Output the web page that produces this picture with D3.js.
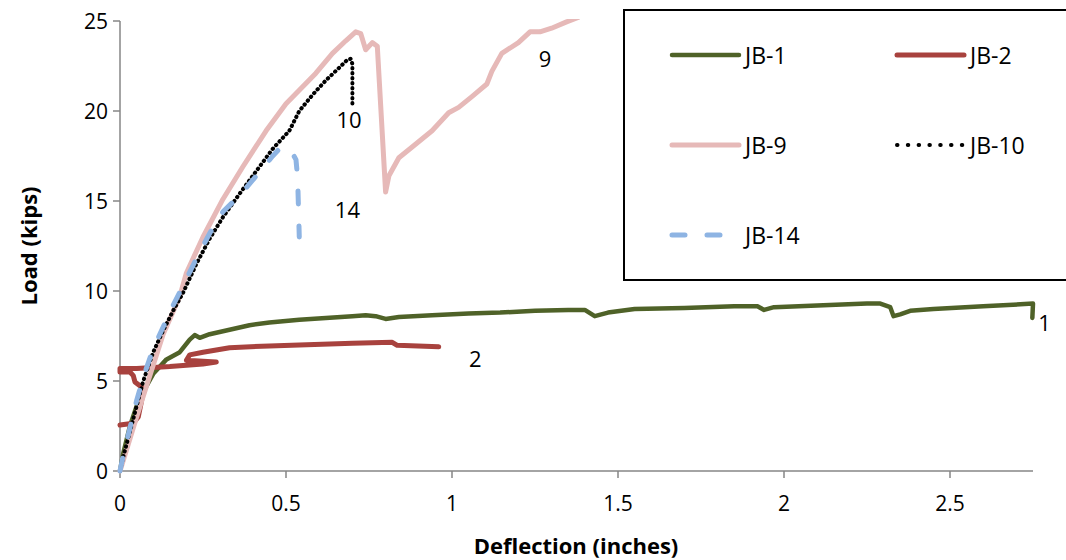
<!DOCTYPE html>
<html><head><meta charset="utf-8">
<script src="https://cdn.jsdelivr.net/npm/d3@7/dist/d3.min.js"></script>
<style>body{margin:0;background:#fff;}svg{display:block;font-family:"Open Sans",Lato,sans-serif;}</style>
</head><body><svg id="c" width="1066" height="560"></svg>
<script>
const seriesNames = ["JB-1","JB-2","JB-9","JB-10","JB-14"];
const xTicks = [0,0.5,1,1.5,2,2.5];
const yTicks = [0,5,10,15,20,25];
const jb1 = [[0,0],[0.01,1.0],[0.03,2.5],[0.05,3.6],[0.07,4.4],[0.10,5.4],[0.14,6.2],[0.18,6.6],[0.21,7.3],[0.225,7.55],[0.24,7.4],[0.27,7.6],[0.33,7.85],[0.39,8.1],[0.45,8.25],[0.54,8.4],[0.62,8.5],[0.70,8.6],[0.74,8.65],[0.77,8.6],[0.80,8.45],[0.84,8.55],[0.94,8.65],[1.05,8.75],[1.145,8.8],[1.25,8.9],[1.35,8.95],[1.40,8.95],[1.43,8.6],[1.47,8.8],[1.55,9.0],[1.70,9.05],[1.85,9.15],[1.92,9.15],[1.94,8.95],[1.97,9.1],[2.10,9.2],[2.25,9.3],[2.29,9.3],[2.32,9.1],[2.33,8.6],[2.35,8.7],[2.38,8.9],[2.45,9.0],[2.60,9.15],[2.75,9.3],[2.748,8.5]];
const jb2 = [[0,2.55],[0.04,2.65],[0.055,3.0],[0.065,3.9],[0.07,4.6],[0.045,4.95],[0.04,5.3],[0.03,5.5],[0,5.5],[0,5.7],[0.05,5.7],[0.15,5.8],[0.25,5.95],[0.29,6.05],[0.25,6.1],[0.20,6.15],[0.21,6.45],[0.25,6.6],[0.33,6.85],[0.45,6.95],[0.54,7.0],[0.70,7.1],[0.82,7.15],[0.835,6.98],[0.96,6.9]];
const jb9 = [[0,0],[0.02,1.2],[0.05,3.0],[0.09,5.3],[0.13,7.6],[0.18,9.7],[0.20,11.0],[0.25,13.0],[0.31,15.1],[0.37,16.9],[0.44,18.9],[0.50,20.4],[0.59,22.1],[0.64,23.2],[0.68,23.9],[0.71,24.4],[0.725,24.3],[0.74,23.4],[0.76,23.8],[0.775,23.6],[0.80,15.5],[0.81,16.4],[0.84,17.4],[0.88,18.0],[0.94,18.9],[0.99,19.9],[1.02,20.2],[1.06,20.8],[1.105,21.5],[1.12,22.2],[1.15,23.2],[1.20,23.8],[1.235,24.4],[1.265,24.4],[1.30,24.6],[1.345,24.95],[1.38,25.2]];
const jb10 = [[0,0],[0.01,0.8],[0.03,2.2],[0.05,3.6],[0.07,5.0],[0.10,6.6],[0.13,7.8],[0.16,8.9],[0.19,9.9],[0.23,11.5],[0.27,12.9],[0.31,14.1],[0.36,15.4],[0.42,16.9],[0.46,17.9],[0.51,18.9],[0.54,20.0],[0.58,20.9],[0.62,21.7],[0.66,22.4],[0.685,22.85],[0.695,22.9],[0.70,22.6],[0.70,20.3]];
const jb14 = [[0,0],[0.01,0.9],[0.03,2.4],[0.05,3.9],[0.07,5.2],[0.10,6.8],[0.13,8.0],[0.16,9.2],[0.19,10.3],[0.23,11.8],[0.27,13.2],[0.31,14.4],[0.36,15.3],[0.42,16.6],[0.46,17.5],[0.48,17.9],[0.50,18.0],[0.515,17.8],[0.53,17.3],[0.535,16.3],[0.54,13.0]];
const endLabels = [["9",1.28,22.9],["10",0.69,19.5],["14",0.685,14.5],["2",1.07,6.2],["1",2.785,8.2]];

const svg = d3.select("#c");
const x = d3.scaleLinear().domain([0,2.75]).range([120,1033]);
const y = d3.scaleLinear().domain([0,25]).range([471,21]);

svg.append("defs").append("clipPath").attr("id","clip").append("rect")
  .attr("x",0).attr("y",19).attr("width",1066).attr("height",560);

const styles = [
  {data:jb1,color:"#4F6228",w:4.5,dash:null,legDash:null},
  {data:jb2,color:"#A8423E",w:5,dash:null,legDash:null},
  {data:jb9,color:"#E6B9B8",w:5,dash:null,legDash:null},
  {data:jb10,color:"#000000",w:4,dash:"0.5,4.5",legDash:"0.5,10.3"},
  {data:jb14,color:"#8EB4E3",w:5,dash:"13,22",legDash:"13,22"}
];

// axes
const ax = svg.append("g").attr("stroke","#868686").attr("stroke-width",1.5);
ax.append("line").attr("x1",x(0)).attr("x2",x(2.75)).attr("y1",y(0)).attr("y2",y(0));
ax.append("line").attr("x1",x(0)).attr("x2",x(0)).attr("y1",y(0)).attr("y2",y(25));
xTicks.forEach(t=>ax.append("line").attr("x1",x(t)).attr("x2",x(t)).attr("y1",y(0)).attr("y2",y(0)+7));
yTicks.forEach(t=>ax.append("line").attr("x1",x(0)-7).attr("x2",x(0)).attr("y1",y(t)).attr("y2",y(t)));

svg.append("g").selectAll("text").data(xTicks).join("text")
  .attr("x",d=>x(d)).attr("y",y(0)+40).attr("text-anchor","middle")
  .attr("font-size",21).attr("fill","#000").text(d=>d);
svg.append("g").selectAll("text").data(yTicks).join("text")
  .attr("x",x(0)-12).attr("y",d=>y(d)+7.5).attr("text-anchor","end")
  .attr("font-size",21).attr("fill","#000").text(d=>d);

svg.append("text").attr("x",576).attr("y",554).attr("text-anchor","middle")
  .attr("font-size",22).attr("font-weight","bold").text("Deflection (inches)");
svg.append("text").attr("transform","translate(37,246) rotate(-90)").attr("text-anchor","middle")
  .attr("font-size",22).attr("font-weight","bold").text("Load (kips)");

const line = d3.line().x(d=>x(d[0])).y(d=>y(d[1]));
const g = svg.append("g").attr("clip-path","url(#clip)");
styles.forEach(s=>{
  const p = g.append("path").datum(s.data).attr("d",line).attr("fill","none")
    .attr("stroke",s.color).attr("stroke-width",s.w).attr("stroke-linecap","round").attr("stroke-linejoin","round");
  if(s.dash) p.attr("stroke-dasharray",s.dash);
});

svg.append("g").selectAll("text").data(endLabels).join("text")
  .attr("x",d=>x(d[1])).attr("y",d=>y(d[2])).attr("dy","0.36em").attr("text-anchor","middle")
  .attr("font-size",22).attr("fill","#000").text(d=>d[0]);

// legend
svg.append("rect").attr("x",624).attr("y",10).attr("width",460).attr("height",270)
  .attr("fill","#fff").attr("stroke","#000").attr("stroke-width",2);
const legPos = [[670,55],[895,55],[670,145],[895,145],[670,235]];
seriesNames.forEach((n,i)=>{
  const s = styles[i], [lx,ly] = legPos[i];
  const l = svg.append("line").attr("x1",lx+2).attr("x2",lx+69).attr("y1",ly).attr("y2",ly)
    .attr("stroke",s.color).attr("stroke-width",s.w).attr("stroke-linecap","round");
  if(s.legDash) l.attr("stroke-dasharray",s.legDash);
  svg.append("text").attr("x",lx+75).attr("y",ly+8.5).attr("font-size",23).text(n);
});
</script></body></html>
